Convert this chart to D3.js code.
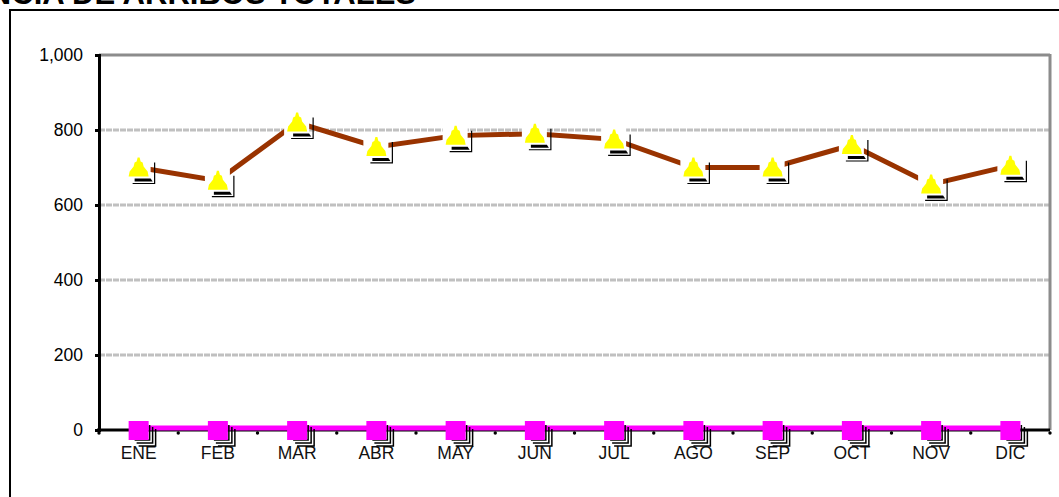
<!DOCTYPE html>
<html><head><meta charset="utf-8">
<script src="https://cdn.jsdelivr.net/npm/d3@7"></script>
<style>body{margin:0;background:#fff}svg{display:block}</style>
</head><body>
<script>
const months = ["ENE","FEB","MAR","ABR","MAY","JUN","JUL","AGO","SEP","OCT","NOV","DIC"];
const totales = [700, 665, 820, 755, 785, 790, 775, 700, 700, 760, 655, 705];
const otros = [0,0,0,0,0,0,0,0,0,0,0,0];
const yTicks = [0,200,400,600,800,1000];
const title = "TENDENCIA DE ARRIBOS TOTALES";

const W=1059,H=497;
const svg=d3.select("body").append("svg").attr("width",W).attr("height",H);
const L=99,R=1050,T=55,B=430;
const x=d3.scaleBand().domain(months).range([L,R]);
const y=d3.scaleLinear().domain([0,1000]).range([B,T]);
const cx=d=>x(d)+x.bandwidth()/2;
const FONT="Liberation Sans, Arial, sans-serif";

// title (cut at top edge, as in the reference)
svg.append("text").attr("x",416).attr("y",4).attr("text-anchor","end")
  .attr("font-family",FONT).attr("font-weight","bold")
  .attr("font-size",31).text(title);
// outer frame
svg.append("rect").attr("x",10).attr("y",10).attr("width",1060).attr("height",500)
  .attr("fill","none").attr("stroke","#000").attr("stroke-width",2);

// gridlines
yTicks.filter(t=>t>0&&t<1000).forEach(t=>{
  svg.append("line").attr("x1",L).attr("x2",R).attr("y1",y(t)).attr("y2",y(t))
    .attr("stroke","#c0c0c0").attr("stroke-width",3).attr("stroke-dasharray","6,1");
});
svg.append("line").attr("x1",L).attr("x2",R).attr("y1",y(1000)).attr("y2",y(1000))
  .attr("stroke","#8c8c8c").attr("stroke-width",3);
svg.append("line").attr("x1",R).attr("x2",R).attr("y1",T-1).attr("y2",B)
  .attr("stroke","#8c8c8c").attr("stroke-width",3);

// y axis
const ya=d3.axisLeft(y).tickValues(yTicks).tickFormat(d3.format(",")).tickSize(4).tickPadding(12);
const gy=svg.append("g").attr("transform",`translate(${L},0)`).call(ya);
gy.select(".domain").attr("stroke","#000").attr("stroke-width",3);
gy.selectAll(".tick line").attr("stroke","#000").attr("stroke-width",3);
gy.selectAll("text").attr("font-family",FONT).attr("font-size",17.5).attr("fill","#000");

// x axis
const gx=svg.append("g").attr("transform",`translate(0,${B})`);
gx.append("line").attr("x1",L-2).attr("x2",R).attr("y1",0).attr("y2",0).attr("stroke","#000").attr("stroke-width",3);
const bounds=d3.range(months.length+1).map(i=>L+i*x.step());
gx.selectAll("circle.tk").data(bounds).join("circle").attr("cx",d=>d).attr("cy",3).attr("r",1.7).attr("fill","#000");
gx.selectAll("text").data(months).join("text").attr("x",d=>cx(d)).attr("y",29)
  .attr("text-anchor","middle").attr("font-family",FONT).attr("font-size",17.5).attr("fill","#111").text(d=>d);

// series 2 magenta
const line=d3.line().x((d,i)=>cx(months[i])).y(d=>y(d));
svg.append("path").datum(otros).attr("d",line).attr("transform","translate(0,-2)").attr("fill","none").attr("stroke","#ff00ff").attr("stroke-width",5);
const sq=svg.selectAll("g.sq").data(otros).join("g").attr("transform",(d,i)=>`translate(${cx(months[i])},${y(d)})`);
sq.append("path").attr("d","M-4,10 H11 V-5 M-2,13 H14 V-3 M0,16 H17 V-1").attr("fill","none").attr("stroke","#000").attr("stroke-width",1.5);
sq.append("rect").attr("x",-10).attr("y",-9).attr("width",20).attr("height",19).attr("fill","#ff00ff");

// series 1 brown
svg.append("path").datum(totales).attr("d",line).attr("fill","none").attr("stroke","#993300").attr("stroke-width",5);
const mk=svg.selectAll("g.mk").data(totales).join("g").attr("transform",(d,i)=>`translate(${cx(months[i])},${y(d)})`);
mk.append("rect").attr("x",-13).attr("y",-13).attr("width",25).attr("height",29).attr("fill","#fff");
mk.append("path").attr("d","M-6,16 H16 V-5").attr("fill","none").attr("stroke","#000").attr("stroke-width",1.2);
mk.append("path").attr("d","M-4,11 H12 L14,14 H-4 Z").attr("fill","#000");
mk.append("path").attr("d","M-1,-10 L1,-10 L2,-6 L4,-5 L5,-1 L9,4 L10,9 L-10,9 L-9,4 L-5,-1 L-4,-5 L-2,-6 Z").attr("fill","#ffff00");
</script>
</body></html>
